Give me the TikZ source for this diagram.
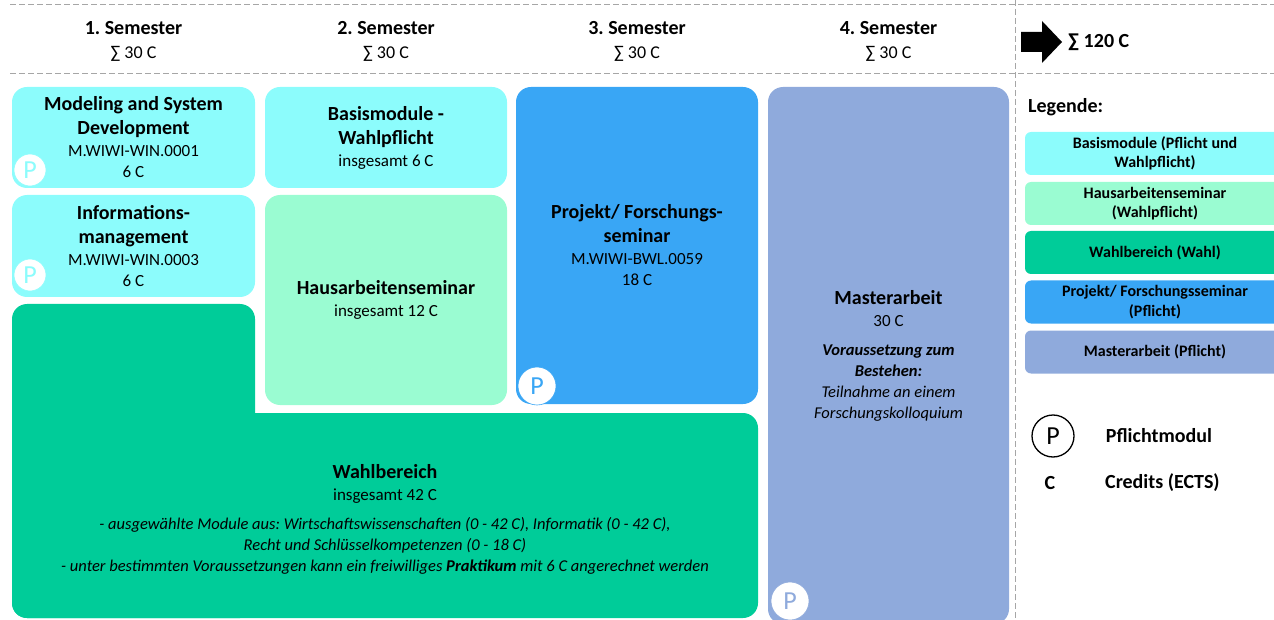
\documentclass[tikz,border=0pt]{standalone}
\usepackage{fontspec}
\setmainfont{Carlito}
\usetikzlibrary{positioning}
\frenchspacing

\definecolor{basis}{HTML}{8CFCFC}
\definecolor{haus}{HTML}{9AFCD2}
\definecolor{wahl}{HTML}{00CC99}
\definecolor{proj}{HTML}{39A6F5}
\definecolor{master}{HTML}{8FAADC}
\definecolor{sepgray}{HTML}{A6A6A6}

\newcommand{\hd}[1]{{\fontsize{20}{25}\selectfont\bfseries #1}}
\newcommand{\sm}[1]{{\fontsize{16.5}{20}\selectfont\itshape #1}}

\tikzset{
  modbox/.style={rounded corners=15pt, inner sep=0pt, align=center,
    font=\fontsize{17}{21}\selectfont},
  legbox/.style={rounded corners=6pt, minimum width=260, minimum height=43,
    inner sep=0pt, align=center, font=\fontsize{16}{19.5}\selectfont\bfseries},
  pmark/.style={circle, fill=white, inner sep=0pt, line width=0.6pt,
    font=\fontsize{26}{26}\selectfont},
  sepline/.style={sepgray, dash pattern=on 6pt off 3pt, line width=1pt},
  legtext/.style={inner sep=0pt, anchor=west, font=\fontsize{20}{24}\selectfont\bfseries}
}

\begin{document}
\begin{tikzpicture}[x=1pt,y=-1pt]
    \useasboundingbox (0,0) rectangle (1274,620);
    \clip (0,0) rectangle (1274,620);
    %% separators
    \draw[sepline] (10,5) -- (1274,5);
    \draw[sepline] (10,74) -- (1274,74);
    \draw[sepline] (1015,0) -- (1015,620);
    %% semester heads
    \foreach \i/\x in {1/133.5,2/386,3/637,4/888.5}
        \node[align=center, font=\fontsize{18}{24}\selectfont] (sem\i) at (\x,41) {\hd{\i. Semester}\\ ∑ 30 C};
    %% total
    \fill (1021,32) -- (1042,32) -- (1042,21) -- (1062,42) -- (1042,63) -- (1042,52) -- (1021,52) -- cycle;
    \node[legtext] (total) at (1068,42) {∑ 120 C};
    %% semester 1
    \node[modbox, fill=basis, minimum width=243, minimum height=101] (msd) at (133.5,137.5)
        {\hd{Modeling and System}\\[3pt] \hd{Development}\\[1pt] M.WIWI-WIN.0001\\ 6 C};
    \node[modbox, fill=basis, minimum width=243, minimum height=102] (inf) at (133.5,246)
        {\hd{Informations-}\\[3pt] \hd{management}\\[1pt] M.WIWI-WIN.0003\\ 6 C};
    %% semester 2
    \node[modbox, fill=basis, minimum width=242, minimum height=101] (bwp) at (386,137.5)
        {\hd{Basismodule -}\\[3pt] \hd{Wahlpflicht}\\[1pt] insgesamt 6 C};
    \node[modbox, fill=haus, minimum width=242, minimum height=210] (haus) at (386,300)
        {\hd{Hausarbeitenseminar}\\[1pt] insgesamt 12 C};
    %% semester 3
    \node[modbox, fill=proj, minimum width=242, minimum height=317] (proj) at (637,245.5)
        {\hd{Projekt/ Forschungs-}\\[3pt] \hd{seminar}\\[1pt] M.WIWI-BWL.0059\\ 18 C};
    %% semester 4
    \node[modbox, fill=master, minimum width=241, minimum height=537] (master) at (888.5,355.5)
        {\hd{Masterarbeit}\\[1pt] 30 C\\[8pt]
         \sm{\bfseries Voraussetzung zum}\\ \sm{\bfseries Bestehen:}\\ \sm{Teilnahme an einem}\\ \sm{Forschungskolloquium}};
    %% wahlbereich
    \node[modbox, fill=wahl, minimum width=243, minimum height=314] (wahltop) at (133.5,461) {};
    \node[modbox, fill=wahl, minimum width=746, minimum height=205] (wahl) at (385,515.5)
        {\hd{\rule{0pt}{21pt}Wahlbereich}\\[1pt] insgesamt 42 C\\[8pt]
         \sm{- ausgewählte Module aus: Wirtschaftswissenschaften (0 - 42 C), Informatik (0 - 42 C),}\\
         \sm{Recht und Schlüsselkompetenzen (0 - 18 C)}\\
         \sm{- unter bestimmten Voraussetzungen kann ein freiwilliges \textbf{Praktikum} mit 6 C angerechnet werden}};
    %% pflicht marks
    \node[pmark, draw=basis, text=basis, minimum size=32] (pmsd) at (30,170) {P};
    \node[pmark, draw=basis, text=basis, minimum size=32] (pinf) at (30,275) {P};
    \node[pmark, draw=proj, text=proj, minimum size=38] (pproj) at (537,386) {P};
    \node[pmark, draw=master, text=master, minimum size=38] (pmaster) at (790,601) {P};
    %% legend
    \node[legtext, anchor=base west] (leg) at (1028,113) {Legende:};
    \node[legbox, fill=basis] (leg1) at (1155,153.5) {Basismodule (Pflicht und\\ Wahlpflicht)};
    \node[legbox, fill=haus] (leg2) at (1155,203.5) {Hausarbeitenseminar\\ (Wahlpflicht)};
    \node[legbox, fill=wahl] (leg3) at (1155,252.5) {Wahlbereich (Wahl)};
    \node[legbox, fill=proj] (leg4) at (1155,302) {Projekt/ Forschungsseminar\\ (Pflicht)};
    \node[legbox, fill=master] (leg5) at (1155,352) {Masterarbeit (Pflicht)};
    \node[pmark, draw=black, line width=1.3pt, minimum size=42] (lp) at (1053,436) {P};
    \node[legtext, right=31pt of lp] (lpt) {Pflichtmodul};
    \node[legtext, anchor=center] (lc) at (1050,483) {C};
    \node[legtext] (lct) at (1105,483) {Credits (ECTS)};
\end{tikzpicture}
\end{document}
